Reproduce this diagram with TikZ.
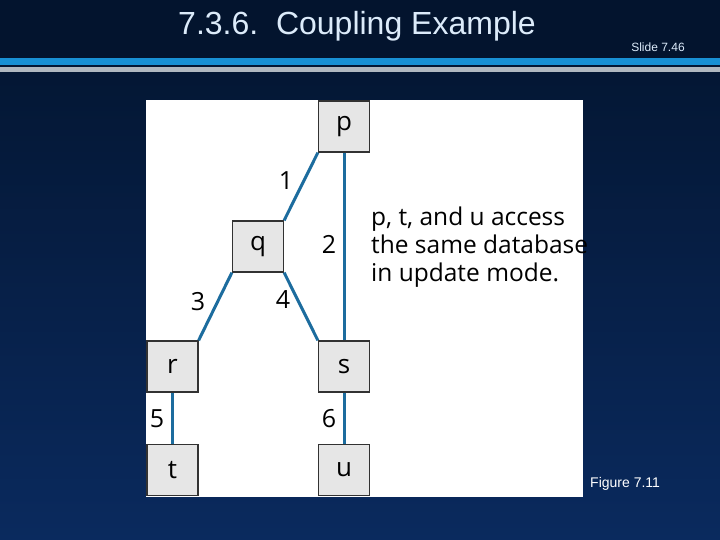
\documentclass[tikz,border=0pt]{standalone}
\usepackage{fontspec}
\setmainfont{Liberation Sans}
\newfontfamily\figfont{Open Sans}
\definecolor{bgtop}{RGB}{3,20,46}
\definecolor{bgbot}{RGB}{10,42,94}
\definecolor{stripeblue}{RGB}{24,144,212}
\definecolor{stripegray}{RGB}{176,184,192}
\definecolor{titletxt}{RGB}{220,235,250}
\definecolor{boxfill}{RGB}{230,230,230}
\definecolor{boxline}{RGB}{50,50,50}
\definecolor{edgeblue}{RGB}{28,108,158}
\tikzset{
  procbox/.style={draw=boxline, line width=1.3pt, fill=boxfill, minimum width=51pt, minimum height=51pt, inner sep=0pt, font=\figfont\fontsize{26}{28}\selectfont},
  link/.style={draw=edgeblue, line width=3pt},
  numlab/.style={font=\figfont\fontsize{25}{27}\selectfont, inner sep=0pt}
}
\begin{document}
\begin{tikzpicture}[x=1pt,y=-1pt]
\useasboundingbox (0,0) rectangle (720,540);
\shade[top color=bgtop, bottom color=bgbot] (0,0) rectangle (720,540);
\fill[bgtop] (0,0) rectangle (720,58);
\fill[stripeblue] (0,58) rectangle (720,65);
\fill[stripegray] (0,67) rectangle (720,72);
\node[text=titletxt, font=\fontsize{32}{36}\selectfont, inner sep=0pt] (title) at (357,26) {7.3.6.\ \ Coupling Example};
\node[text=titletxt, font=\fontsize{12}{14}\selectfont, inner sep=0pt] (slide) at (658,47) {Slide 7.46};
\node[text=white, font=\fontsize{14}{16}\selectfont, inner sep=0pt, anchor=west] (fig) at (590,484) {Figure 7.11};
\fill[white] (146,100) rectangle (583,497);
\node[procbox] (p) at (344,126.5) {p};
\node[procbox] (q) at (258,246.5) {q};
\node[procbox] (r) at (172.5,366.5) {r};
\node[procbox] (s) at (344,366.5) {s};
\node[procbox] (t) at (172.5,470) {t};
\node[procbox] (u) at (344,470) {u};
\draw[link] (p.south west) -- (q.north east);
\draw[link] (p.south) -- (s.north);
\draw[link] (q.south west) -- (r.north east);
\draw[link] (q.south east) -- (s.north west);
\draw[link] (r.south) -- (t.north);
\draw[link] (s.south) -- (u.north);
\node[numlab] (l1) at (286,181) {1};
\node[numlab] (l2) at (329,244) {2};
\node[numlab] (l3) at (198,302) {3};
\node[numlab] (l4) at (283,300) {4};
\node[numlab] (l5) at (157,419) {5};
\node[numlab] (l6) at (329,419) {6};
\node[font=\figfont\fontsize{24.5}{28}\selectfont, align=left, anchor=north west, inner sep=0pt] (note) at (371,207) {p, t, and u access\\the same database\\in update mode.};
\end{tikzpicture}
\end{document}
